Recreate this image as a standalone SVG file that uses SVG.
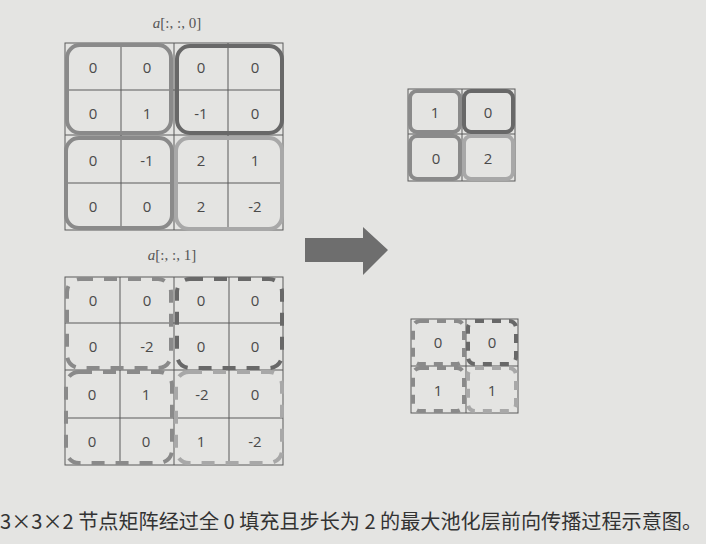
<svg xmlns="http://www.w3.org/2000/svg" width="706" height="544" viewBox="0 0 706 544">
<defs>
<style>
.bg{fill:#e4e4e2}
.grid{fill:none;stroke:#5a5a5a;stroke-width:1}
.num{font-family:"Open Sans","Liberation Sans",sans-serif;font-size:15px;fill:#4a4a4a;text-anchor:middle;dominant-baseline:central}
.lbl{font-family:"Liberation Serif",serif;font-size:15px;fill:#555;text-anchor:middle}
.it{font-style:italic}
.win{fill:none;stroke-width:4}
.dash{stroke-dasharray:13 11}
.c1{stroke:#8a8a8a}
.c2{stroke:#686868}
.c3{stroke:#a8a8a8}
.cap{font-family:"Noto Sans CJK SC","Liberation Sans",sans-serif;font-size:20px;fill:#333}
</style>
</defs>
<rect class="bg" x="0" y="0" width="706" height="544"/>

<g id="label0"><text class="lbl" x="177" y="28"><tspan class="it">a</tspan>[:, :, 0]</text></g>
<g id="label1"><text class="lbl" x="172" y="260"><tspan class="it">a</tspan>[:, :, 1]</text></g>

<g id="input0">
<rect class="grid" x="65" y="43" width="218" height="187"/>
<path class="grid" d="M121 43V230M174 43V230M228 43V230M65 90H283M65 135H283M65 183H283"/>
<rect class="win c1" x="67" y="45" width="104" height="88" rx="13"/>
<rect class="win c2" x="177" y="46" width="105" height="87" rx="13"/>
<rect class="win c1" x="66" y="138" width="106" height="90" rx="13"/>
<rect class="win c3" x="176" y="138" width="106" height="91" rx="13"/>
<text class="num" x="93" y="67">0</text><text class="num" x="147" y="67">0</text><text class="num" x="201" y="67">0</text><text class="num" x="255" y="67">0</text>
<text class="num" x="93" y="113">0</text><text class="num" x="147" y="113">1</text><text class="num" x="201" y="113">-1</text><text class="num" x="255" y="113">0</text>
<text class="num" x="93" y="160">0</text><text class="num" x="147" y="160">-1</text><text class="num" x="201" y="160">2</text><text class="num" x="255" y="160">1</text>
<text class="num" x="93" y="206">0</text><text class="num" x="147" y="206">0</text><text class="num" x="201" y="206">2</text><text class="num" x="255" y="206">-2</text>
</g>

<g id="input1">
<rect class="grid" x="65" y="277" width="218" height="188"/>
<path class="grid" d="M120 277V465M174 277V465M229 277V465M65 323H283M65 370H283M65 418H283"/>
<rect class="win dash c1" x="67" y="279" width="104" height="89" rx="13"/>
<rect class="win dash c2" x="177" y="279" width="105" height="89" rx="13"/>
<rect class="win dash c1" x="66" y="372" width="106" height="91" rx="13"/>
<rect class="win dash c3" x="176" y="372" width="106" height="91" rx="13"/>
<text class="num" x="93" y="300">0</text><text class="num" x="147" y="300">0</text><text class="num" x="201" y="300">0</text><text class="num" x="255" y="300">0</text>
<text class="num" x="93" y="346">0</text><text class="num" x="147" y="346">-2</text><text class="num" x="201" y="346">0</text><text class="num" x="255" y="346">0</text>
<text class="num" x="92" y="394">0</text><text class="num" x="146" y="394">1</text><text class="num" x="202" y="394">-2</text><text class="num" x="255" y="394">0</text>
<text class="num" x="92" y="441">0</text><text class="num" x="146" y="441">0</text><text class="num" x="201" y="441">1</text><text class="num" x="255" y="441">-2</text>
</g>

<g id="connectors">
<path d="M305 238H363V227L388 250L363 275V262H305Z" fill="#6e6e6e"/>
</g>

<g id="output0">
<rect class="grid" x="408" y="89" width="107" height="92"/>
<path class="grid" d="M462 89V181M408 134H515"/>
<rect class="win c1" x="410" y="91" width="50" height="41" rx="7"/>
<rect class="win c2" x="464" y="91" width="49" height="41" rx="7"/>
<rect class="win c1" x="410" y="136" width="50" height="43" rx="7"/>
<rect class="win c3" x="464" y="136" width="49" height="43" rx="7"/>
<text class="num" x="435" y="112">1</text><text class="num" x="488" y="112">0</text>
<text class="num" x="436" y="158">0</text><text class="num" x="488" y="158">2</text>
</g>

<g id="output1">
<rect class="grid" x="411" y="319" width="107" height="94"/>
<path class="grid" d="M466 319V413M411 366H518"/>
<rect class="win dash c1" x="413" y="321" width="51" height="43" rx="7" style="stroke-dasharray:9 8"/>
<rect class="win dash c2" x="468" y="321" width="48" height="43" rx="7" style="stroke-dasharray:9 8"/>
<rect class="win dash c1" x="413" y="368" width="51" height="43" rx="7" style="stroke-dasharray:9 8"/>
<rect class="win dash c3" x="468" y="368" width="48" height="43" rx="7" style="stroke-dasharray:9 8"/>
<text class="num" x="438" y="342">0</text><text class="num" x="492" y="342">0</text>
<text class="num" x="438" y="390">1</text><text class="num" x="492" y="390">1</text>
</g>

<g id="caption"><text class="cap" x="0" y="529" textLength="702" lengthAdjust="spacingAndGlyphs">3×3×2 节点矩阵经过全 0 填充且步长为 2 的最大池化层前向传播过程示意图。</text></g>
</svg>
